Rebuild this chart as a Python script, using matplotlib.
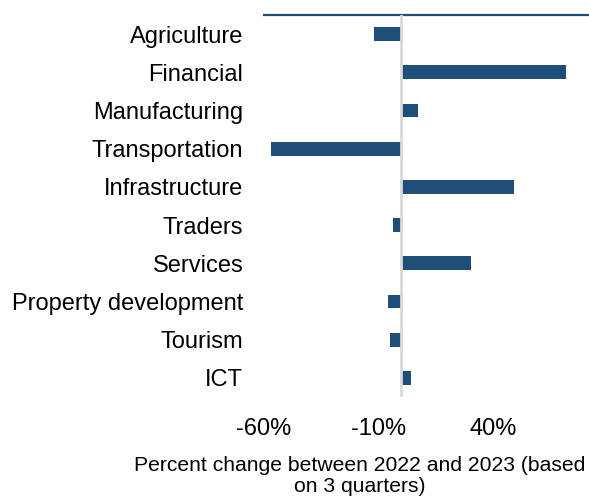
import matplotlib.pyplot as plt
import numpy as np

plt.rcParams['font.family'] = ['Liberation Sans', 'DejaVu Sans']

sectors = ["Agriculture", "Financial", "Manufacturing", "Transportation",
           "Infrastructure", "Traders", "Services", "Property development",
           "Tourism", "ICT"]
pct_change = [-11.8, 72.2, 7.5, -56.9, 49.1, -3.5, 30.3, -5.6, -4.8, 4.1]
xticks = [-60, -10, 40]

W, H = 589, 499
fig = plt.figure(figsize=(W / 100, H / 100), dpi=100)
ax = fig.add_axes([264 / W, 1 - 397 / H, (588 - 264) / W, (397 - 15) / H])

y_pos = np.arange(len(sectors))
ax.barh(y_pos, pct_change, height=0.36, color="#1F4E79", zorder=2)
ax.axvline(0, color="#D9D9D9", lw=2, zorder=3)

ax.set_xlim(-60, 81.6)
ax.set_ylim(len(sectors) - 0.5, -0.5)
ax.set_yticks(y_pos)
ax.set_yticklabels(sectors, fontsize=17)
ax.set_xticks(xticks)
ax.set_xticklabels(["{}%".format(t) for t in xticks], fontsize=17)
ax.tick_params(axis="y", length=0, pad=15)
ax.tick_params(axis="x", length=0, pad=15)

for s in ["left", "right", "bottom"]:
    ax.spines[s].set_visible(False)
ax.spines["top"].set_color("#1F4E79")
ax.spines["top"].set_linewidth(1.6)

fig.text(360 / W, 1 - 476 / H, "Percent change between 2022 and 2023 (based\non 3 quarters)",
         ha="center", va="center", fontsize=15.2, linespacing=1.15)

fig.savefig("out.png", dpi=100)
